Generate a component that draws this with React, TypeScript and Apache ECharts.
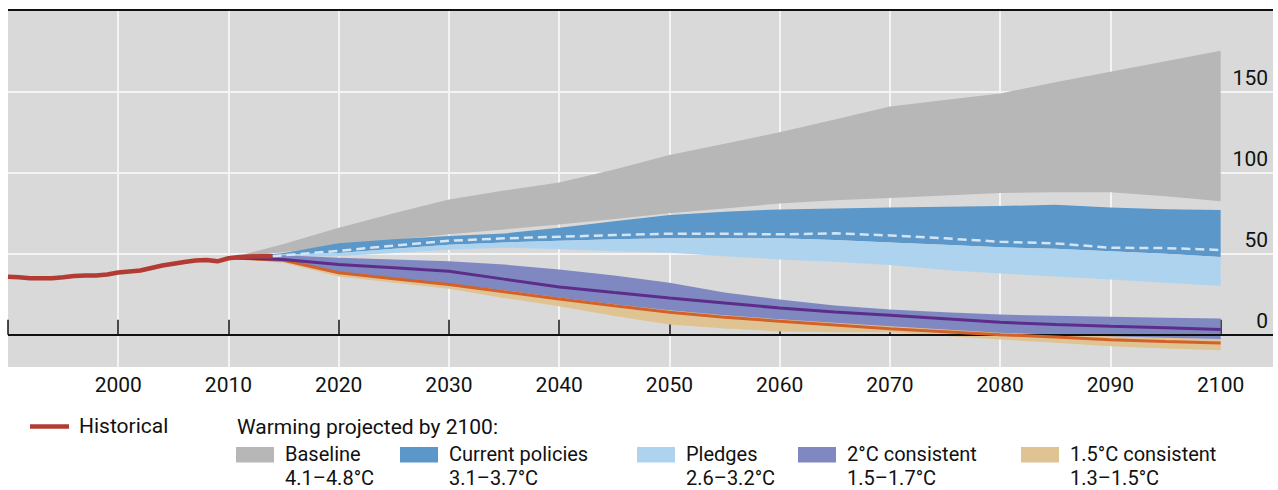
import React, { useEffect, useRef } from "react";
import * as echarts from "echarts";

// ---------- data ----------
const histYears = [1990, 1991, 1992, 1993, 1994, 1995, 1996, 1997, 1998, 1999, 2000, 2001, 2002, 2003, 2004, 2005, 2006, 2007, 2008, 2009, 2010, 2011, 2012, 2013, 2014];
const histValues = [35.8, 35.5, 34.9, 34.8, 34.9, 35.5, 36.2, 36.5, 36.6, 37.2, 38.4, 39.0, 39.6, 41.2, 42.7, 43.8, 44.9, 45.8, 46.1, 45.3, 47.2, 48.0, 48.3, 48.5, 48.5];

const projYears = [2010, 2015, 2020, 2025, 2030, 2035, 2040, 2045, 2050, 2055, 2060, 2065, 2070, 2075, 2080, 2085, 2090, 2095, 2100];
const baselineUpper = [47, 56, 66, 75, 83.5, 89, 94, 102, 111, 118, 125, 133, 141, 145, 149, 156, 162.5, 169, 175.5];
const baselineLower = [47, 51, 55, 58.5, 62, 65, 68, 71.5, 75, 78, 81, 83, 84.5, 86, 87.5, 88, 88, 85.5, 82.5];
const currentUpper = [47, 50.5, 56.5, 59, 61, 62.5, 66, 70, 74, 76, 77.4, 78, 78.6, 79, 79.5, 80.2, 78.6, 77.5, 77];
const currentLower = [47, 49.5, 50.5, 53, 55.5, 57, 58, 59, 59.5, 59.5, 59.5, 58.5, 57, 55.5, 54, 53, 51.6, 50, 48];
const pledgesUpper = currentLower;
const pledgesLower = [47, 48.3, 48.5, 50.5, 52.5, 53.7, 52.7, 51.5, 50.6, 48.5, 46.5, 45, 43, 40, 37.8, 36, 34, 32, 30];
const twoUpper = [48, 49, 47.5, 46.5, 45.4, 43.3, 40.3, 36.5, 32, 26, 21.7, 18, 15.5, 13.8, 12.4, 11.6, 11, 10.4, 9.9];
const twoMedian = [47.5, 46.5, 43.4, 41.3, 39.2, 34.3, 29.5, 26, 22.7, 19.5, 16.5, 14, 12, 9.8, 7.6, 6.3, 5.2, 4.2, 3.1];
const twoLower = [47, 45.5, 38.5, 35, 31.5, 27.5, 23, 18.8, 15, 12, 9.5, 7.3, 5.2, 3.2, 1.2, 0, -1, -2, -2.7];
const onefiveUpper = [48, 47.5, 40.5, 37, 33.5, 29, 24.5, 20.3, 16.3, 13.3, 10.8, 8.5, 6.1, 4.3, 2.5, 1, -0.6, -1.7, -2.7];
const onefiveMedian = [47.5, 46, 38.2, 34.5, 31, 26.5, 22, 17.8, 13.8, 10.8, 8.3, 6, 3.6, 1.8, 0, -1.5, -3.1, -4.2, -5.2];
const onefiveLower = [47, 44.5, 36, 32, 28.3, 22.7, 17.5, 11.5, 6.2, 3.8, 2, 1.5, 1.5, -0.8, -3, -5, -7.2, -8.5, -9.7];

const pledgesMidYears = [2014, 2020, 2025, 2030, 2035, 2040, 2045, 2050, 2055, 2060, 2065, 2070, 2075, 2080, 2085, 2090, 2095, 2100];
const pledgesMid = [48.5, 51.8, 55, 58, 59.5, 60.5, 61.5, 62.4, 62.3, 62, 62.6, 61.3, 59.5, 57.4, 56.4, 53.7, 53.5, 52.3];

const xTickValues = [1990, 2000, 2010, 2020, 2030, 2040, 2050, 2060, 2070, 2080, 2090, 2100];
const xLabelValues = [2000, 2010, 2020, 2030, 2040, 2050, 2060, 2070, 2080, 2090, 2100];
const yLabelValues = [0, 50, 100, 150];
const yGridValues = [50, 100, 150];

const legendItems = [
  { name: "Baseline", range: "4.1–4.8°C", color: "#b7b7b7", x: 236 },
  { name: "Current policies", range: "3.1–3.7°C", color: "#5b97c9", x: 400 },
  { name: "Pledges", range: "2.6–3.2°C", color: "#aed3ef", x: 637 },
  { name: "2°C consistent", range: "1.5–1.7°C", color: "#8088c2", x: 798 },
  { name: "1.5°C consistent", range: "1.3–1.5°C", color: "#dfc393", x: 1021 },
];

const FONT = 'Roboto, "Open Sans", sans-serif';
const TXT = "#111111";
const FS = 21;
const LFS = 20;

function band(name: string, years: number[], lower: number[], upper: number[], color: string, z: number) {
  return {
    type: "custom",
    name,
    z,
    silent: true,
    clip: true,
    data: years.map((y, i) => [y, lower[i], upper[i]]),
    encode: { x: 0, y: [1, 2] },
    renderItem: (params: any, api: any) => {
      if (params.dataIndex !== 0) return null;
      const top = years.map((y, i) => api.coord([y, upper[i]]));
      const bot = years.map((y, i) => api.coord([y, lower[i]])).reverse();
      return { type: "polygon", shape: { points: top.concat(bot) }, style: { fill: color } };
    },
  };
}

function line(name: string, years: number[], values: number[], color: string, width: number, z: number, type: any = "solid") {
  return {
    type: "line",
    name,
    z,
    silent: true,
    symbol: "none",
    showSymbol: false,
    data: years.map((y, i) => [y, values[i]]),
    lineStyle: { color, width, type, cap: "butt" },
  };
}

export default function App() {
  const ref = useRef<HTMLDivElement>(null);
  useEffect(() => {
    if (!ref.current) return;
    const chart = echarts.init(ref.current, null, { renderer: "svg" });

    const graphic: any[] = [
      { type: "line", shape: { x1: 8, y1: 10, x2: 1273, y2: 10 }, style: { stroke: "#111", lineWidth: 2 }, silent: true },
      { type: "line", shape: { x1: 30, y1: 426.5, x2: 69, y2: 426.5 }, style: { stroke: "#b23b33", lineWidth: 4.5 }, silent: true },
      { type: "text", x: 79, y: 425.5, style: { text: "Historical", fontSize: FS, fontFamily: FONT, fill: TXT, verticalAlign: "middle", align: "left" } },
      { type: "text", x: 237, y: 427, style: { text: "Warming projected by 2100:", fontSize: FS, fontFamily: FONT, fill: TXT, verticalAlign: "middle", align: "left" } },
    ];
    legendItems.forEach((it) => {
      graphic.push({ type: "rect", shape: { x: it.x, y: 447, width: 38, height: 15.5 }, style: { fill: it.color }, silent: true });
      graphic.push({
        type: "text",
        x: it.x + 49,
        y: 453.5,
        style: { text: it.name, fontSize: LFS, fontFamily: FONT, fill: TXT, verticalAlign: "middle", align: "left" },
      });
      graphic.push({
        type: "text",
        x: it.x + 49,
        y: 477.5,
        style: { text: it.range, fontSize: LFS, fontFamily: FONT, fill: TXT, verticalAlign: "middle", align: "left" },
      });
    });

    const option: any = {
      animation: false,
      backgroundColor: "#ffffff",
      grid: { left: 8, right: 5, top: 11, bottom: 123, show: true, backgroundColor: "#d9d9d9", borderWidth: 0 },
      xAxis: {
        type: "value",
        min: 1990,
        max: 2104.75,
        interval: 10,
        axisLine: { show: false },
        axisTick: { show: true, inside: true, length: 15, customValues: xTickValues, lineStyle: { color: "#111", width: 1.5 } },
        axisLabel: { customValues: xLabelValues, formatter: (v: number) => String(v), fontSize: FS, fontFamily: FONT, color: TXT, margin: 7 },
        splitLine: { show: true, showMinLine: false, showMaxLine: false, lineStyle: { color: "#f4f4f4", width: 2 } },
      },
      yAxis: {
        type: "value",
        min: -20,
        max: 200,
        position: "right",
        axisLine: { show: false },
        axisTick: { show: false },
        splitLine: { show: false },
        axisLabel: {
          inside: true,
          margin: 5,
          verticalAlign: "bottom",
          padding: [0, 0, 3, 0],
          customValues: yLabelValues,
          formatter: (v: number) => String(v),
          fontSize: FS,
          fontFamily: FONT,
          color: TXT,
        },
      },
      graphic,
      series: [
        {
          type: "line",
          name: "grid",
          data: [],
          silent: true,
          markLine: {
            silent: true,
            z: 1,
            symbol: ["none", "none"],
            label: { show: false },
            lineStyle: { color: "#f4f4f4", width: 2, type: "solid" },
            data: yGridValues.map((v) => ({ yAxis: v })),
          },
        },
        band("Baseline", projYears, baselineLower, baselineUpper, "#b7b7b7", 2),
        band("Current policies", projYears, currentLower, currentUpper, "#5b97c9", 2),
        band("Pledges", projYears, pledgesLower, pledgesUpper, "#aed3ef", 2),
        line("Pledges median", pledgesMidYears, pledgesMid, "#d3e5f4", 2.5, 3, [9, 5]),
        band("1.5°C consistent", projYears, onefiveLower, onefiveUpper, "#dfc393", 2),
        band("2°C consistent", projYears, twoLower, twoUpper, "#8088c2", 2),
        {
          type: "line",
          name: "zero",
          data: [],
          silent: true,
          markLine: {
            silent: true,
            z: 3,
            symbol: ["none", "none"],
            label: { show: false },
            lineStyle: { color: "#111", width: 1.8, type: "solid" },
            data: [{ yAxis: 0 }],
          },
        },
        line("1.5°C median", projYears, onefiveMedian, "#d3622a", 3, 4),
        line("2°C median", projYears, twoMedian, "#5c2e8a", 3, 4),
        line("Historical", histYears, histValues, "#b23b33", 4.5, 5),
      ],
    };
    chart.setOption(option);
    return () => chart.dispose();
  }, []);
  return (
    <div
      ref={ref}
      style={{ position: "fixed", left: 0, top: 0, width: 1278, height: 490, background: "#fff" }}
    />
  );
}
